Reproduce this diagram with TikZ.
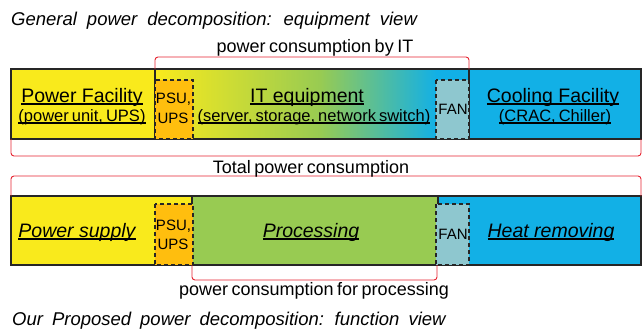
\documentclass[tikz,border=0pt]{standalone}
\usepackage{fontspec}
\setmainfont{Liberation Sans}
\definecolor{cyel}{HTML}{F9EA1C}
\definecolor{corg}{HTML}{FFBE0E}
\definecolor{cgrn}{HTML}{98CB52}
\definecolor{cblu}{HTML}{12B0E6}
\definecolor{cfan}{HTML}{8EC7CF}
\definecolor{cred}{HTML}{E52330}
\newsavebox\ulbox
\newcommand\ulx[1]{\sbox\ulbox{#1}\rlap{\rule[-2.6pt]{\wd\ulbox}{1.4pt}}\usebox\ulbox}
\newcommand\spx[2]{{\spaceskip=#1\relax #2}}
\tikzset{
  barline/.style={draw=black!85, line width=1.3pt},
  dbox/.style={draw=black!85, line width=1.3pt, dash pattern=on 4pt off 3pt},
  brk/.style={draw=cred, line width=0.9pt, rounded corners=3pt},
  title/.style={anchor=base west, inner sep=0pt, font=\fontsize{18.5}{22}\selectfont\itshape},
  blab/.style={anchor=base, inner sep=0pt, font=\fontsize{18}{22}\selectfont},
  mainlab/.style={anchor=base, inner sep=0pt, font=\fontsize{19.5}{22}\selectfont},
  itlab/.style={anchor=base, inner sep=0pt, font=\fontsize{19.5}{22}\selectfont\itshape},
  sublab/.style={anchor=base, inner sep=0pt, font=\fontsize{16.5}{20}\selectfont},
  smalllab/.style={anchor=base, inner sep=0pt, font=\fontsize{15}{20}\selectfont}
}
\begin{document}
\begin{tikzpicture}[x=1pt,y=-1pt]
\useasboundingbox (0,0) rectangle (642,332);
% ---------- top bar ----------
\fill[cyel] (11,69) rectangle (155,139);
\shade[left color=cyel, right color=cgrn] (155,69) rectangle (320,139);
\shade[left color=cgrn, right color=cblu] (320,69) rectangle (436.5,139);
\fill[cblu] (436,69) rectangle (641,139);
\draw[barline] (11,69) rectangle (641,139);
\draw[barline] (155,69) -- (155,139);
\draw[barline] (469,69) -- (469,139);
\draw[dbox, fill=corg] (155,80) rectangle (193,139);
\draw[dbox, fill=cfan] (436,80) rectangle (469,139);
% ---------- bottom bar ----------
\fill[cyel] (11,196) rectangle (192,265);
\fill[cgrn] (192,196) rectangle (438,265);
\fill[cblu] (438,196) rectangle (641,265);
\draw[barline] (11,196) rectangle (641,265);
\draw[barline] (192,196) -- (192,265);
\draw[barline] (438,196) -- (438,265);
\draw[dbox, fill=corg] (155,204) rectangle (193,265);
\draw[dbox, fill=cfan] (436,204) rectangle (469,265);
% ---------- coordinates for brackets ----------
\coordinate (itL) at (155,69);  \coordinate (itR) at (469,69);
\coordinate (totTL) at (11,139); \coordinate (totTR) at (641,139);
\coordinate (totBL) at (11,196); \coordinate (totBR) at (641,196);
\coordinate (prL) at (192,265); \coordinate (prR) at (437,265);
\draw[brk] (itL) -- ++(0,-12) -| (itR);
\draw[brk] (totTL) -- ++(0,17) -| (totTR);
\draw[brk] (totBL) -- ++(0,-20) -| (totBR);
\draw[brk] (prL) -- ++(0,15) -| (prR);
% ---------- texts ----------
\node[title] (t1) at (11,25) {\spx{10pt}{General power decomposition: equipment view}};
\node[title] (t2) at (12,325) {\spx{9pt}{Our Proposed power decomposition: function view}};
\node[blab] (lit) at (315,52) {\spx{3.5pt}{power consumption by IT}};
\node[blab] (ltot) at (311,173) {\spx{3.5pt}{Total power consumption}};
\node[blab] (lpr) at (314,295) {\spx{3.5pt}{power consumption for processing}};
\node[mainlab] (pf1) at (82,102) {\ulx{Power Facility}};
\node[sublab] (pf2) at (82,121) {\ulx{\spx{3pt}{(power unit, UPS)}}};
\node[mainlab] (it1) at (307,102) {\ulx{IT equipment}};
\node[sublab] (it2) at (314,121) {\ulx{\spx{3pt}{(server, storage, network switch)}}};
\node[mainlab] (cf1) at (553,102) {\ulx{Cooling Facility}};
\node[sublab] (cf2) at (555,121) {\ulx{\spx{3pt}{(CRAC, Chiller)}}};
\node[smalllab] (psuA) at (173.5,103) {PSU,};
\node[smalllab] (psuB) at (173,123) {UPS};
\node[smalllab] (fanA) at (453,114) {FAN};
\node[itlab] (ps) at (77,237) {\ulx{Power supply}};
\node[itlab] (pr) at (311,237) {\ulx{Processing}};
\node[itlab] (hr) at (551,237) {\ulx{Heat removing}};
\node[smalllab] (psuC) at (173.5,230) {PSU,};
\node[smalllab] (psuD) at (173,249) {UPS};
\node[smalllab] (fanB) at (453,239) {FAN};
\end{tikzpicture}
\end{document}
